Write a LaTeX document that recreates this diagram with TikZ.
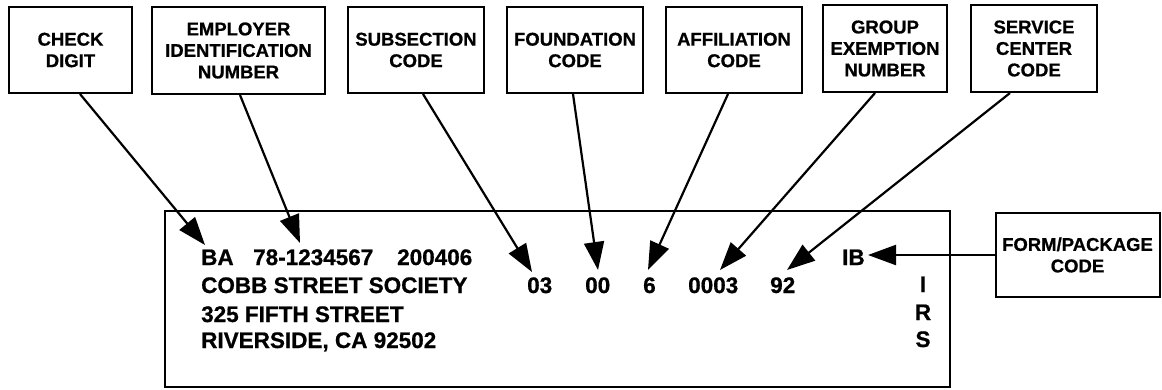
\documentclass[tikz,border=0pt]{standalone}
\usepackage{fontspec}
\setmainfont{Liberation Sans}[BoldFeatures={FakeBold=0.8}]
\usetikzlibrary{arrows.meta}
\tikzset{
  lbl/.style={draw, line width=2pt, align=center, inner sep=0pt,
    font=\fontsize{18.5}{21.5}\selectfont\bfseries},
  addr/.style={anchor=base west, inner sep=0pt, font=\fontsize{22.5}{27}\selectfont\bfseries},
  addrc/.style={anchor=base, inner sep=0pt, font=\fontsize{22.5}{27}\selectfont\bfseries},
  ptr/.style={line width=2.2pt, -{Triangle[length=28pt, width=20pt]}},
}
\begin{document}
\begin{tikzpicture}[x=1pt, y=-1pt]
\useasboundingbox (0,0) rectangle (1162,389);
% label boxes
\node[lbl, minimum width=123pt, minimum height=86pt] (check) at (70.5,50) {CHECK\\DIGIT};
\node[lbl, minimum width=173pt, minimum height=87pt] (ein) at (238.5,50.5) {EMPLOYER\\IDENTIFICATION\\NUMBER};
\node[lbl, minimum width=136pt, minimum height=86pt] (subsec) at (416,50) {SUBSECTION\\CODE};
\node[lbl, minimum width=136pt, minimum height=86pt] (found) at (575,50) {FOUNDATION\\CODE};
\node[lbl, minimum width=136pt, minimum height=86pt] (affil) at (734,50) {AFFILIATION\\CODE};
\node[lbl, minimum width=124pt, minimum height=87pt] (group) at (885,48.5) {GROUP\\EXEMPTION\\NUMBER};
\node[lbl, minimum width=126pt, minimum height=87pt] (service) at (1034,48.5) {SERVICE\\CENTER\\CODE};
\node[lbl, minimum width=164pt, minimum height=84pt] (form) at (1077.5,255) {FORM/PACKAGE\\CODE};
% label (main rectangle)
\node[draw, line width=2pt, minimum width=785pt, minimum height=176pt, inner sep=0pt] (label) at (557.5,299) {};
% address text
\node[addr] (ba) at (201,265) {BA};
\node[addr] (einv) at (253,265) {78-1234567};
\node[addr] (date) at (397,265) {200406};
\node[addr] (name) at (201,293) {COBB STREET SOCIETY};
\node[addr] (street) at (201,322) {325 FIFTH STREET};
\node[addr] (city) at (201,348) {RIVERSIDE, CA 92502};
\node[addr] (v03) at (527,293) {03};
\node[addr] (v00) at (585,293) {00};
\node[addr] (v6) at (643,293) {6};
\node[addr] (v0003) at (688,293) {0003};
\node[addr] (v92) at (770,293) {92};
\node[addr] (ib) at (842,265) {IB};
\node[addrc] (irsI) at (923,292) {I};
\node[addrc] (irsR) at (923,320) {R};
\node[addrc] (irsS) at (923,347) {S};
% arrow tips
\coordinate (tba) at (205,245);
\coordinate (tein) at (300,243);
\coordinate (t03) at (532,272);
\coordinate (t00) at (598,270);
\coordinate (t6) at (648,270);
\coordinate (t0003) at (720,270);
\coordinate (t92) at (787,270);
\coordinate (tib) at (868,255);
% arrows
\draw[ptr] ([xshift=9.5pt]check.south) -- (tba);
\draw[ptr] ([xshift=1.5pt]ein.south) -- (tein);
\draw[ptr] ([xshift=7pt]subsec.south) -- (t03);
\draw[ptr] ([xshift=-2pt]found.south) -- (t00);
\draw[ptr] ([xshift=-6pt]affil.south) -- (t6);
\draw[ptr] ([xshift=-10pt]group.south) -- (t0003);
\draw[ptr] ([xshift=-24pt]service.south) -- (t92);
\draw[ptr] (form.west) -- (tib);
\end{tikzpicture}
\end{document}
